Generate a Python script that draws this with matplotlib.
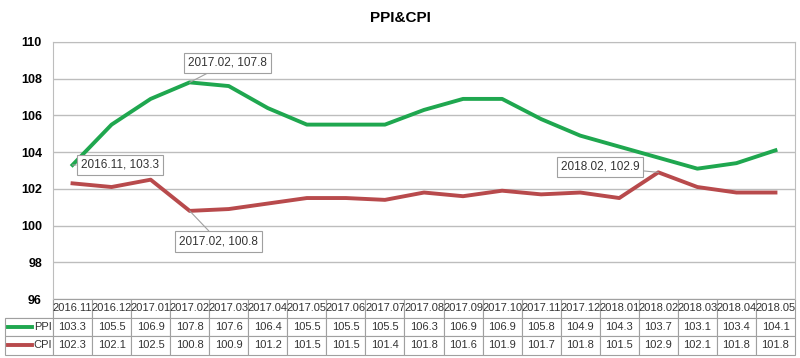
import matplotlib
matplotlib.use('Agg')
import matplotlib.pyplot as plt
from matplotlib.lines import Line2D

plt.rcParams['font.family'] = ['Liberation Sans', 'DejaVu Sans']

# データ
months = ['2016.11', '2016.12', '2017.01', '2017.02', '2017.03', '2017.04', '2017.05',
          '2017.06', '2017.07', '2017.08', '2017.09', '2017.10', '2017.11', '2017.12',
          '2018.01', '2018.02', '2018.03', '2018.04', '2018.05']
ppi = [103.3, 105.5, 106.9, 107.8, 107.6, 106.4, 105.5, 105.5, 105.5, 106.3,
       106.9, 106.9, 105.8, 104.9, 104.3, 103.7, 103.1, 103.4, 104.1]
cpi = [102.3, 102.1, 102.5, 100.8, 100.9, 101.2, 101.5, 101.5, 101.4, 101.8,
       101.6, 101.9, 101.7, 101.8, 101.5, 102.9, 102.1, 101.8, 101.8]
yticks = [96, 98, 100, 102, 104, 106, 108, 110]

PPI_COLOR = '#1fa74f'
CPI_COLOR = '#b84a4c'
GRID = '#bdbdbd'

fig = plt.figure(figsize=(8, 3.58), dpi=100)
ax = fig.add_axes([53 / 800, 1 - 299 / 358, 742 / 800, 257 / 358])

x = list(range(len(months)))
ax.plot(x, ppi, color=PPI_COLOR, lw=2.8, solid_joinstyle='round')
ax.plot(x, cpi, color=CPI_COLOR, lw=2.8, solid_joinstyle='round')

ax.set_xlim(-0.5, len(months) - 0.5)
ax.set_ylim(96, 110)
ax.set_yticks(yticks)
ax.set_yticklabels([str(v) for v in yticks], fontweight='bold', fontsize=9)
ax.tick_params(axis='y', length=0, pad=8)
ax.set_xticks([])
ax.grid(axis='y', color=GRID, lw=1)
for side in ['top', 'right', 'left']:
    ax.spines[side].set_color(GRID)
ax.spines['bottom'].set_visible(False)

fig.text(0.5, 1 - 18 / 358, 'PPI&CPI', ha='center', va='center',
         fontsize=11, fontweight='bold')

# 注釈
box = dict(boxstyle='square,pad=0.35', fc='white', ec='#a0a0a0', lw=0.8)
arrow = dict(arrowstyle='-', color='#a0a0a0', lw=0.8, shrinkA=0, shrinkB=0)
notes = [
    (3, ppi[3], (27, 14)),
    (0, ppi[0], (34, 0)),
    (3, cpi[3], (21, -22)),
    (15, cpi[15], (-42, 4)),
]
for xi, yi, off in notes:
    ax.annotate(f'{months[xi]}, {yi}', xy=(xi, yi), xytext=off,
                textcoords='offset points', ha='center', va='center',
                fontsize=8.5, color='#333333', bbox=box, arrowprops=arrow)

# データテーブル
label_w = 48 / 742
row_h = 18.5 / 257
cell_text = [[''] + months,
             ['PPI'] + [f'{v}' for v in ppi],
             ['CPI'] + [f'{v}' for v in cpi]]
col_w = [label_w] + [1 / len(months)] * len(months)
tbl = ax.table(cellText=cell_text, colWidths=col_w, cellLoc='center',
               bbox=[-label_w, -3 * row_h, 1 + label_w, 3 * row_h])
tbl.auto_set_font_size(False)
tbl.set_fontsize(8)
for (r, c), cell in tbl.get_celld().items():
    cell.set_edgecolor('#a0a0a0')
    cell.set_linewidth(0.8)
    cell.get_text().set_color('#333333')
    if r == 0 and c == 0:
        cell.visible_edges = 'BR'
    if c == 0 and r > 0:
        cell.get_text().set_ha('right')
        cell._loc = 'right'
        cell.PAD = 0.03

for i, color in enumerate([PPI_COLOR, CPI_COLOR]):
    yy = -(1.5 + i) * row_h
    ax.add_line(Line2D([-label_w + 0.004, -0.028], [yy, yy], color=color, lw=2.8,
                       transform=ax.transAxes, clip_on=False))

fig.savefig('out.png', dpi=100)
